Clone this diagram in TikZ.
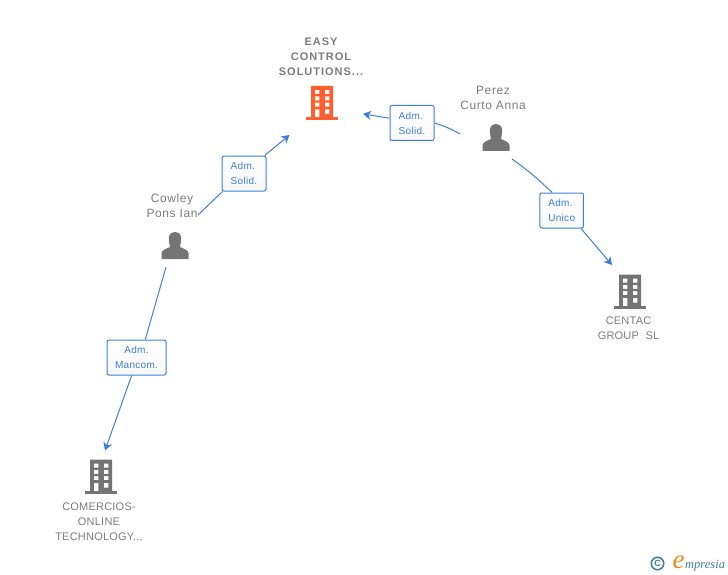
\documentclass[tikz,border=0pt]{standalone}
\usepackage{fontspec}
\usepackage{xcolor}
\setmainfont{Liberation Sans}
\newfontfamily\logofont{Liberation Serif}
\usetikzlibrary{arrows.meta}
\definecolor{linkblue}{HTML}{3B7FDD}
\definecolor{labelgray}{HTML}{7C7C7C}
\definecolor{icongray}{HTML}{747474}
\definecolor{iconred}{HTML}{FF5F2E}
\definecolor{logoteal}{HTML}{3B7F9C}
\definecolor{logoorange}{HTML}{F08A1D}
\tikzset{
  link/.style={linkblue, line width=1pt},
  linkend/.style={link, -{Stealth[length=8pt, width=9pt, inset=2.5pt]}},
  rolebox/.style={draw=linkblue, line width=1pt, rounded corners=2pt, top color=white, bottom color=black!3,
    text=linkblue, align=center, inner sep=0pt, minimum height=35pt, font=\fontsize{10}{15}\selectfont\addfontfeature{LetterSpace=3}},
  firmlabel/.style={text=labelgray, align=center, inner sep=0pt, font=\fontsize{11}{15}\selectfont\addfontfeature{LetterSpace=2}},
  mainlabel/.style={text=labelgray, align=center, inner sep=0pt, font=\fontsize{11}{15}\selectfont\bfseries\addfontfeature{LetterSpace=9}},
  personlabel/.style={text=labelgray, align=center, inner sep=0pt, font=\fontsize{12}{15}\selectfont\addfontfeature{LetterSpace=5}},
  pics/building/.style={code={
    \fill[#1] (-16,15.5) rectangle (16,18.5);
    \fill[#1,even odd rule] (-11,-16) rectangle (11,16)
      (-7.2,-12) rectangle (-2.6,-8) (2.8,-12) rectangle (7.4,-8)
      (-7.2,-5.7) rectangle (-2.6,-1.7) (2.8,-5.7) rectangle (7.4,-1.7)
      (-7.2,0.7) rectangle (-2.6,4.7) (2.8,0.7) rectangle (7.4,4.7)
      (-7.2,7.3) rectangle (-2.6,15.5) (2.8,7.3) rectangle (7.4,12);
  }},
  pics/person/.style={code={
    \fill[icongray] (-13.5,13.5) -- (-13.5,8) .. controls (-13.5,4.5) and (-9,3.5) .. (-5,1.5)
      .. controls (-5,0) and (-5,-1) .. (-5.8,-3) .. controls (-7,-8) and (-6,-13.5) .. (0,-13.5)
      .. controls (6,-13.5) and (7,-8) .. (5.8,-3) .. controls (5,-1) and (5,0) .. (5,1.5)
      .. controls (9,3.5) and (13.5,4.5) .. (13.5,8) -- (13.5,13.5) -- cycle;
  }},
}
\begin{document}
\begin{tikzpicture}[x=1pt, y=-1pt]
  \useasboundingbox (0,0) rectangle (728,575);
  % companies and people
  \pic at (322,102) {building=iconred};
  \pic at (630,290.5) {building=icongray};
  \pic at (101,475.5) {building=icongray};
  \pic at (496,137.5) {person};
  \pic at (175,245.5) {person};
  \node[mainlabel] (easylabel) at (321,57) {EASY\\CONTROL\\SOLUTIONS...};
  \node[firmlabel] (centaclabel) at (628.5,328) {CENTAC\\GROUP\ \ SL};
  \node[firmlabel] (comercioslabel) at (99,521.5) {COMERCIOS-\\ONLINE\\TECHNOLOGY...};
  \node[personlabel] (perezlabel) at (493,97.5) {Perez\\Curto Anna};
  \node[personlabel] (cowleylabel) at (172,205.5) {Cowley\\Pons Ian};
  % roles
  \node[rolebox, minimum width=44pt, align=left] (solideasy) at (412,123) {Adm.\\Solid.};
  \node[rolebox, minimum width=44pt, align=left] (solidcowley) at (244,173.5) {Adm.\\Solid.};
  \node[rolebox, minimum width=43.5pt, align=left] (unico) at (561.7,210.5) {Adm.\\Unico};
  \node[rolebox, minimum width=59pt] (mancom) at (136.5,357.5) {Adm.\\Mancom.};
  % free ends
  \coordinate (perezleft) at (460,134);
  \coordinate (perezright) at (512,159);
  \coordinate (cowleyup) at (198,215);
  \coordinate (cowleydown) at (166,267);
  \coordinate (easyright) at (363,114);
  \coordinate (easydown) at (289.5,135);
  \coordinate (centactop) at (612,265);
  \coordinate (comerciostop) at (105,450.5);
  % connectors
  \draw[link] (perezleft) to[bend right=6] (solideasy.east);
  \draw[linkend] (solideasy.168) -- (easyright);
  \draw[link] (cowleyup) -- (solidcowley.220);
  \draw[linkend] (solidcowley.41) -- (easydown);
  \draw[link] (perezright) to[bend left=4] (unico.118);
  \draw[linkend] (unico.317) -- (centactop);
  \draw[link] (cowleydown) -- (mancom.64);
  \draw[linkend] (mancom.255) -- (comerciostop);
  % logo
  \node[draw=logoteal, line width=1.5pt, circle, text=logoteal, inner sep=0pt, minimum size=12.5pt, font=\fontsize{9}{9}\selectfont\bfseries] (copysign) at (657.5,563.5) {C};
  \node[text=logoorange, anchor=base, inner sep=0pt, font=\fontsize{27}{27}\logofont\itshape] (logoe) at (678.5,568) {e};
  \node[text=logoteal, anchor=base west, inner sep=0pt, font=\fontsize{12.5}{13}\logofont\itshape] (logotext) at (685,568) {mpresia};
\end{tikzpicture}
\end{document}
